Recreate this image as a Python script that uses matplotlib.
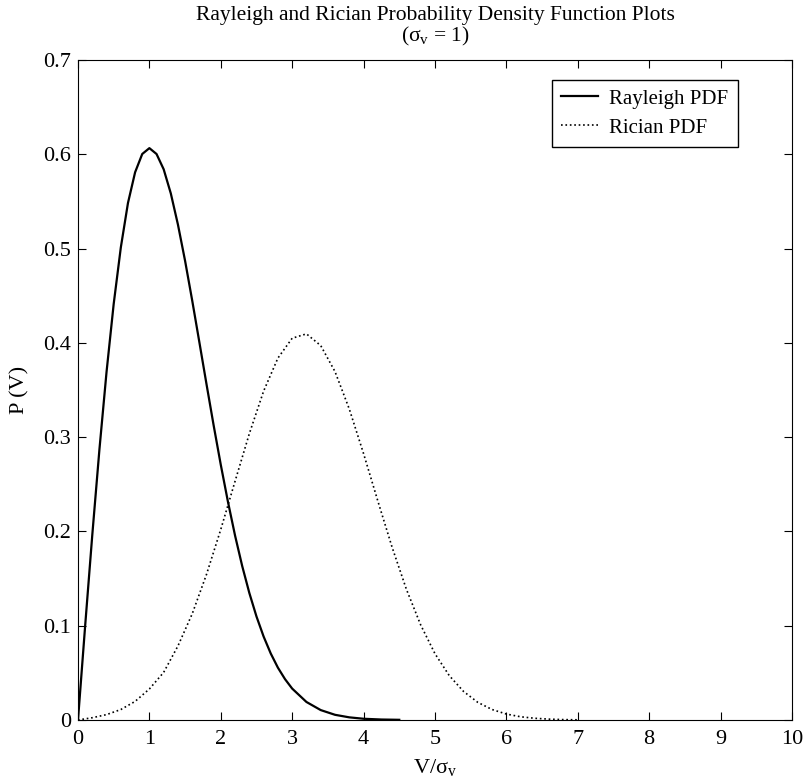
import matplotlib
matplotlib.use("Agg")
import matplotlib.pyplot as plt
import numpy as np

plt.rcParams['font.family'] = ['Liberation Serif', 'DejaVu Serif']
plt.rcParams['mathtext.default'] = 'regular'

# values
rayleigh_x = [0.0, 0.1, 0.2, 0.3, 0.4, 0.5, 0.6, 0.7, 0.8, 0.9, 1.0,
              1.1, 1.2, 1.3, 1.4, 1.5, 1.6, 1.7, 1.8, 1.9, 2.0,
              2.1, 2.2, 2.3, 2.4, 2.5, 2.6, 2.7, 2.8, 2.9, 3.0,
              3.2, 3.4, 3.6, 3.8, 4.0, 4.25, 4.5]
rayleigh_p = [0.0, 0.0995, 0.196, 0.2867, 0.3692, 0.4412, 0.5012, 0.5483, 0.5809, 0.6003, 0.6065,
              0.6003, 0.5841, 0.5585, 0.5254, 0.487, 0.4448, 0.4007, 0.3562, 0.3125, 0.2707,
              0.2316, 0.1956, 0.1633, 0.1347, 0.1098, 0.0885, 0.0705, 0.0555, 0.0433, 0.0333,
              0.0191, 0.0105, 0.0055, 0.0028, 0.0013, 0.0005, 0.0002]

rician_x = [0.0, 0.2, 0.4, 0.6, 0.8, 1.0, 1.2, 1.4, 1.6, 1.8, 2.0,
            2.2, 2.4, 2.6, 2.8, 3.0, 3.2, 3.4, 3.6, 3.8, 4.0,
            4.2, 4.4, 4.6, 4.8, 5.0, 5.2, 5.4, 5.6, 5.8, 6.0,
            6.2, 6.4, 6.6, 6.8, 7.0]
rician_p = [0.0, 0.0024, 0.0057, 0.0111, 0.0197, 0.0329, 0.0505, 0.0785, 0.1126, 0.1544, 0.2021,
            0.2532, 0.3037, 0.3488, 0.3838, 0.4049, 0.4095, 0.3971, 0.3695, 0.3298, 0.2825,
            0.2322, 0.1831, 0.1386, 0.1008, 0.0703, 0.0471, 0.0303, 0.0187, 0.0111, 0.0063,
            0.0034, 0.0018, 0.0009, 0.0004, 0.0002]

fig = plt.figure(figsize=(8.04, 7.82), dpi=100)
ax = fig.add_axes([0.097, 0.0793, 0.888, 0.844])

ax.plot(rayleigh_x, rayleigh_p, color='black', lw=1.6, label='Rayleigh PDF')
ax.plot(rician_x, rician_p, color='black', lw=1.2, ls=':', label='Rician PDF')

ax.set_xlim(0, 10)
ax.set_ylim(0, 0.7)
ax.set_xticks(np.arange(0, 11, 1))
ax.set_yticks(np.arange(0, 0.71, 0.1))
ax.set_yticklabels(['0', '0.1', '0.2', '0.3', '0.4', '0.5', '0.6', '0.7'])
ax.tick_params(direction='in', top=True, right=True, length=6, labelsize=16)
ax.tick_params(axis='x', pad=7)
ax.tick_params(axis='y', pad=5)

ax.set_xlabel('V/σ$_v$', fontsize=16, labelpad=6)
ax.set_ylabel('P (V)', fontsize=16, labelpad=10)
ax.set_title('Rayleigh and Rician Probability Density Function Plots\n(σ$_v$ = 1)',
             fontsize=15.5, pad=13, linespacing=1.0)

leg = ax.legend(loc='upper right', bbox_to_anchor=(0.924, 0.970), borderaxespad=0,
                fontsize=15, fancybox=False, edgecolor='black', framealpha=1,
                handlelength=1.75, borderpad=0.45, labelspacing=0.45, handletextpad=0.55)
leg.get_frame().set_linewidth(1.0)

plt.savefig('out.png', dpi=100)
